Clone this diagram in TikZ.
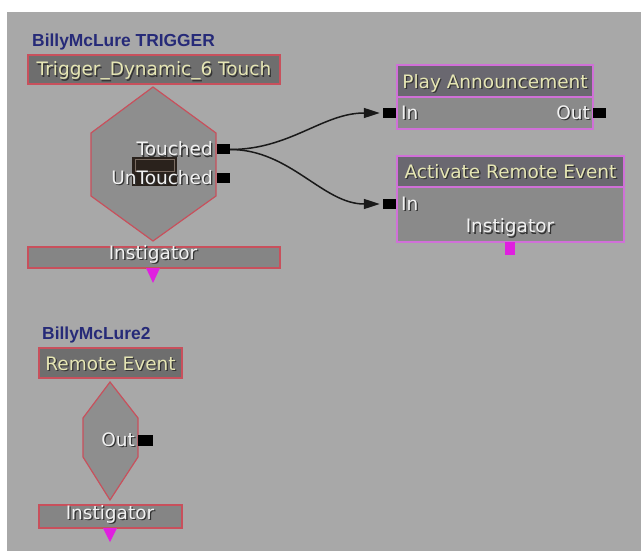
\documentclass[tikz,border=0pt]{standalone}
\usepackage{fontspec}
\setmainfont{DejaVu Sans}
\newfontfamily\grpfont{Liberation Sans}
\usetikzlibrary{arrows.meta}
\definecolor{bg}{HTML}{A8A8A8}
\definecolor{tboxf}{HTML}{6E6E6E}
\definecolor{rtitf}{HTML}{6A6870}
\definecolor{redb}{HTML}{C8505C}
\definecolor{hexf}{HTML}{8E8E8E}
\definecolor{barf}{HTML}{858585}
\definecolor{bodyf}{HTML}{8A8A8A}
\definecolor{magb}{HTML}{D070D8}
\definecolor{magp}{HTML}{E020E0}
\definecolor{ttxt}{HTML}{E6E6B4}
\definecolor{ltxt}{HTML}{F2F2F2}
\definecolor{navy}{HTML}{262A78}
\definecolor{iconf}{HTML}{2A221C}
\definecolor{iconl}{HTML}{7A6C62}
\newcommand{\shd}[1]{\makebox[0pt][l]{\hspace{1.3pt}\raisebox{-1.3pt}{\color{black!80}#1}}#1}
\tikzset{
  lbl/.style={inner sep=0pt, font=\fontsize{18.5}{20}\selectfont, text=ltxt},
  ttl/.style={inner sep=0pt, anchor=base, font=\fontsize{18.5}{20}\selectfont, text=ttxt},
  grouptitle/.style={inner sep=0pt, anchor=base west, text=navy, font=\grpfont\fontsize{17.4}{19}\selectfont\bfseries},
  redbox/.style={draw=redb, line width=1.2pt, fill=tboxf, inner sep=0pt},
  redbar/.style={draw=redb, line width=1.2pt, fill=barf, inner sep=0pt},
  hexshape/.style={draw=redb, line width=1.2pt, fill=hexf},
  magtitle/.style={draw=magb, line width=1.2pt, fill=rtitf, inner sep=0pt},
  magbody/.style={draw=magb, line width=1.2pt, fill=bodyf, inner sep=0pt},
  port/.style={fill=black, inner sep=0pt, minimum width=13pt, minimum height=10pt},
  magport/.style={fill=magp, inner sep=0pt, minimum width=10pt, minimum height=13pt},
  conn/.style={draw=black!90, line width=1.5pt, -{Triangle[length=16pt,width=10pt]}, shorten >=3pt},
}
\begin{document}
\begin{tikzpicture}[x=1pt,y=-1pt]
\useasboundingbox (0,0) rectangle (641,551);
\fill[white] (0,0) rectangle (641,551);
\fill[bg] (7,12) rectangle (641,551);

% ---------- group 1 ----------
\node[grouptitle] (g1) at (32,46.5) {BillyMcLure TRIGGER};
\node[redbox, minimum width=252pt, minimum height=29pt] (trig) at (154,69.5) {};
\node[ttl] (trigt) at (154,76) {\shd{Trigger\_Dynamic\_6 Touch}};
\path[hexshape] (153,87) -- (216,133) -- (216,196) -- (153,241) -- (91,196) -- (91,133) -- cycle;
\fill[iconf] (132,157) rectangle (177,186);
\draw[iconl, line width=1pt] (135,160) rectangle (174,172);
\node[lbl, anchor=base east] (touched) at (213,156) {\shd{Touched}};
\node[lbl, anchor=base east] (untouched) at (213,184) {\shd{UnTouched}};
\node[port] (tport) at (223.5,149.5) {};
\node[port] (uport) at (223.5,178) {};
\node[redbar, minimum width=252pt, minimum height=21pt] (inst1) at (154,257.5) {};
\node[lbl, anchor=base] (inst1t) at (153,259) {\shd{Instigator}};
\fill[magp] (146,268) -- (160,268) -- (153,283) -- cycle;

% ---------- Play Announcement ----------
\node[magtitle, minimum width=196pt, minimum height=32pt] (pa) at (495,81) {};
\node[ttl] (pat) at (495,88.5) {\shd{Play Announcement}};
\node[magbody, minimum width=196pt, minimum height=32pt] (pab) at (495,113) {};
\node[lbl, anchor=base west] (pain) at (401,119.5) {\shd{In}};
\node[lbl, anchor=base east] (paout) at (590,119.5) {\shd{Out}};
\node[port] (pinport) at (389.5,113) {};
\node[port] (poutport) at (599.5,113) {};

% ---------- Activate Remote Event ----------
\node[magtitle, minimum width=227pt, minimum height=31pt] (are) at (510.5,171.5) {};
\node[ttl] (aret) at (510.5,178.5) {\shd{Activate Remote Event}};
\node[magbody, minimum width=227pt, minimum height=55pt] (areb) at (510.5,214.5) {};
\node[lbl, anchor=base west] (arein) at (401,210.5) {\shd{In}};
\node[lbl, anchor=base] (areinst) at (510,233) {\shd{Instigator}};
\node[port] (ainport) at (389.5,204) {};
\node[magport] (ainst) at (510,248.5) {};

% ---------- connectors ----------
\draw[conn] (tport.east) .. controls +(60,0) and +(-60,0) .. (pinport.west);
\draw[conn] (tport.east) .. controls +(60,0) and +(-60,0) .. (ainport.west);

% ---------- group 2 ----------
\node[grouptitle] (g2) at (42,339.5) {BillyMcLure2};
\node[redbox, minimum width=143pt, minimum height=30pt] (re) at (110.5,363) {};
\node[ttl] (ret) at (110.5,370.5) {\shd{Remote Event}};
\path[hexshape] (110,382) -- (138,418) -- (138,457) -- (110,500) -- (83,457) -- (83,418) -- cycle;
\node[lbl, anchor=base east] (reout) at (135,446.5) {\shd{Out}};
\node[port, minimum width=15pt, minimum height=11pt] (reoutport) at (145.5,440.5) {};
\node[redbar, minimum width=143pt, minimum height=23pt] (inst2) at (110.5,516.5) {};
\node[lbl, anchor=base] (inst2t) at (110,519) {\shd{Instigator}};
\fill[magp] (103,528) -- (117,528) -- (110,542) -- cycle;
\end{tikzpicture}
\end{document}
